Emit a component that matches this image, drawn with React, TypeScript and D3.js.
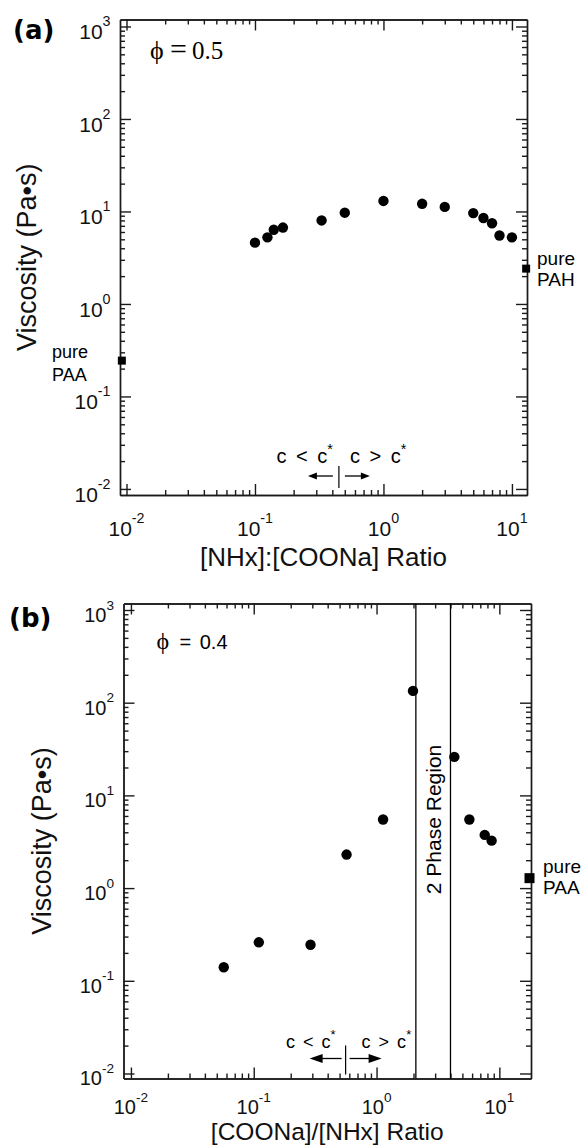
import React, { useEffect, useRef } from 'react';
import * as d3 from 'd3';

const SANS = '"Liberation Sans", Arial, Helvetica, sans-serif';
const SERIF = '"Liberation Serif", "DejaVu Serif", "Times New Roman", serif';
const BOLD = '"DejaVu Sans", Verdana, sans-serif';

// (a) phi = 0.5, x = [NHx]:[COONa]
const ratioA = [0.1, 0.125, 0.14, 0.165, 0.33, 0.5, 1, 2, 3, 5, 6, 7, 8, 10];
const viscA = [4.6, 5.25, 6.35, 6.7, 8.0, 9.7, 13.0, 12.1, 11.2, 9.6, 8.5, 7.45, 5.5, 5.25];
const pureLabelA = ['PAA', 'PAH'];
const pureRatioA = [0.0092, 12.9];
const pureViscA = [0.244, 2.41];
const xRangeA = [0.0089, 13.1];
const yRangeA = [0.0086, 1190];
const cStarA = 0.45;

// (b) phi = 0.4, x = [COONa]/[NHx]
const ratioB = [0.057, 0.11, 0.29, 0.57, 1.13, 1.98, 4.3, 5.7, 7.6, 8.65];
const viscB = [0.14, 0.26, 0.245, 2.3, 5.5, 134, 26, 5.5, 3.75, 3.25];
const pureLabelB = ['PAA'];
const pureRatioB = [17.6];
const pureViscB = [1.28];
const xRangeB = [0.0087, 18.1];
const yRangeB = [0.00883, 1175];
const phaseB = [2.09, 4.0];
const cStarB = 0.56;

const xDecades = [-2, -1, 0, 1];
const yDecades = [-2, -1, 0, 1, 2, 3];

const panels = [
  {
    box: { l: 120, t: 19.5, r: 527, b: 495 },
    tag: '(a)', tagX: 13, tagY: 39,
    xs: ratioA, ys: viscA, xRange: xRangeA, yRange: yRangeA,
    pureLabel: pureLabelA, pureX: pureRatioA, pureY: pureViscA, sq: 8,
    phase: [], cStar: cStarA, phi: '0.5',
    xTitle: '[NHx]:[COONa] Ratio', xTitleY: 566, xTitleSize: 26, yTitleX: 36,
    tick: 21, xLabelDy: 41, yLabelDy: 13,
    small: false,
  },
  {
    box: { l: 123.5, t: 603.5, r: 531, b: 1078.5 },
    tag: '(b)', tagX: 9, tagY: 627,
    xs: ratioB, ys: viscB, xRange: xRangeB, yRange: yRangeB,
    pureLabel: pureLabelB, pureX: pureRatioB, pureY: pureViscB, sq: 10,
    phase: phaseB, cStar: cStarB, phi: '0.4',
    xTitle: '[COONa]/[NHx] Ratio', xTitleY: 1140, xTitleSize: 24.5, yTitleX: 51,
    tick: 20, xLabelDy: 35.5, yLabelDy: 12,
    small: true,
  },
];

function drawPanel(svg, p) {
  const { l, t, r, b } = p.box;
  const x = d3.scaleLog().domain(p.xRange).range([l, r]);
  const y = d3.scaleLog().domain(p.yRange).range([b, t]);
  const g = svg.append('g');

  const minors = dec => dec.slice(0, -1).flatMap(e => d3.range(2, 10).map(k => k * 10 ** e));
  const xMaj = xDecades.map(e => 10 ** e);
  const yMaj = yDecades.map(e => 10 ** e);

  // frame with inward ticks on all four sides
  const sides = [
    [() => d3.axisBottom(x), `translate(0,${b})`, xMaj, minors(xDecades)],
    [() => d3.axisTop(x), `translate(0,${t})`, xMaj, minors(xDecades)],
    [() => d3.axisLeft(y), `translate(${l},0)`, yMaj, minors(yDecades)],
    [() => d3.axisRight(y), `translate(${r},0)`, yMaj, minors(yDecades)],
  ];
  sides.forEach(([mk, tr, maj, min]) => {
    [[maj, 11], [min, 5]].forEach(([vals, len]) => {
      g.append('g')
        .attr('transform', tr)
        .call(mk().tickValues(vals).tickSize(-len).tickSizeOuter(0).tickFormat(() => ''))
        .call(s => s.selectAll('path, line').attr('stroke', '#1a1a1a').attr('stroke-width', 1.4));
    });
  });

  // tick labels 10^n
  const sup = p.tick * 0.68;
  const power = (sel, e) => {
    sel.append('tspan').text('10');
    sel.append('tspan').attr('dy', -p.tick * 0.62).style('font-size', `${sup}px`).text(e);
  };
  xDecades.forEach(e => {
    g.append('text')
      .attr('x', x(10 ** e))
      .attr('y', b + p.xLabelDy)
      .attr('text-anchor', 'middle')
      .style('font-family', SANS)
      .style('font-size', `${p.tick}px`)
      .attr('fill', '#111')
      .call(s => power(s, e));
  });
  yDecades.forEach(e => {
    g.append('text')
      .attr('x', l - 9.5)
      .attr('y', y(10 ** e) + p.yLabelDy)
      .attr('text-anchor', 'end')
      .style('font-family', SANS)
      .style('font-size', `${p.tick}px`)
      .attr('fill', '#111')
      .call(s => power(s, e));
  });

  // axis titles
  g.append('text')
    .attr('x', (l + r) / 2)
    .attr('y', p.xTitleY)
    .attr('text-anchor', 'middle')
    .style('font-family', SANS)
    .style('font-size', `${p.xTitleSize}px`)
    .attr('fill', '#111')
    .text(p.xTitle);

  g.append('text')
    .attr('transform', `translate(${p.yTitleX},${(t + b) / 2}) rotate(-90)`)
    .attr('text-anchor', 'middle')
    .style('font-family', SANS)
    .style('font-size', '27px')
    .attr('fill', '#111')
    .text('Viscosity (Pa•s)');

  // panel tag
  g.append('text')
    .attr('x', p.tagX)
    .attr('y', p.tagY)
    .style('font-family', BOLD)
    .style('font-weight', 'bold')
    .style('font-size', '26px')
    .attr('fill', '#000')
    .text(p.tag);

  // phi label
  if (!p.small) {
    g.append('text').attr('x', l + 30).attr('y', t + 39)
      .style('font-family', SERIF).style('font-size', '26px').attr('fill', '#000').text('ϕ');
    g.append('text').attr('x', l + 50).attr('y', t + 39)
      .style('font-family', SERIF).style('font-size', '30px').attr('fill', '#000').text('=');
    g.append('text').attr('x', l + 72).attr('y', t + 39)
      .style('font-family', SERIF).style('font-size', '25px').attr('fill', '#000').text(p.phi);
  } else {
    g.append('text').attr('x', l + 33).attr('y', t + 45)
      .style('font-family', SERIF).style('font-size', '24px').attr('fill', '#000').text('ϕ');
    g.append('text').attr('x', l + 56).attr('y', t + 45)
      .style('font-family', SANS).style('font-size', '20px').style('word-spacing', '3px')
      .attr('fill', '#000').text(`= ${p.phi}`);
  }

  // two-phase boundaries
  p.phase.forEach(v => {
    g.append('line')
      .attr('x1', x(v)).attr('x2', x(v))
      .attr('y1', t).attr('y2', b)
      .attr('stroke', '#000')
      .attr('stroke-width', 1.3);
  });
  if (p.phase.length) {
    const mid = x(Math.sqrt(p.phase[0] * p.phase[1]));
    g.append('text')
      .attr('transform', `translate(${mid + 7.5},${y(5.5)}) rotate(-90)`)
      .attr('text-anchor', 'middle')
      .style('font-family', SANS)
      .style('font-size', '21px')
      .attr('fill', '#000')
      .text('2 Phase Region');
  }

  // c* annotation
  const cx = x(p.cStar);
  const fs = p.small ? 18 : 20;
  const ay = p.small ? b - 20 : b - 19;
  const tyc = p.small ? b - 31 : b - 32;
  const half = p.small ? 4.5 : 3.5;
  const head = p.small ? 13 : 9;
  const inner = p.small ? 4 : 6;
  const outer = p.small ? 36 : 31;
  const ws = p.small ? '3px' : '4px';

  [['c < c', cx - (p.small ? 10 : 6), 'end'], ['c > c', cx + (p.small ? 16 : 11), 'start']]
    .forEach(([txt, tx, anchor]) => {
      const el = g.append('text')
        .attr('x', tx).attr('y', tyc)
        .attr('text-anchor', anchor)
        .style('font-family', SANS).style('font-size', `${fs}px`).style('word-spacing', ws)
        .attr('fill', '#000');
      el.append('tspan').text(txt);
      el.append('tspan').attr('dy', -fs * 0.45).style('font-size', `${fs * 0.72}px`).text('*');
    });

  g.append('line')
    .attr('x1', cx).attr('x2', cx)
    .attr('y1', p.small ? b - 33 : b - 29).attr('y2', p.small ? b - 4 : b - 7)
    .attr('stroke', '#000').attr('stroke-width', 1.2);

  [-1, 1].forEach(dir => {
    const x0 = cx + dir * inner;
    const x1 = cx + dir * outer;
    g.append('line')
      .attr('x1', x0).attr('x2', x1 - dir * head * 0.5)
      .attr('y1', ay).attr('y2', ay)
      .attr('stroke', '#000').attr('stroke-width', 1.3);
    g.append('path')
      .attr('d', `M${x1},${ay}L${x1 - dir * head},${ay - half}L${x1 - dir * head},${ay + half}Z`)
      .attr('fill', '#000');
  });

  // data points
  g.selectAll('.pt')
    .data(p.xs.map((v, k) => [v, p.ys[k]]))
    .enter()
    .append('circle')
    .attr('class', 'pt')
    .attr('cx', d => x(d[0]))
    .attr('cy', d => y(d[1]))
    .attr('r', 5.2)
    .attr('fill', '#000');

  // pure polymer markers
  p.pureLabel.forEach((name, k) => {
    const px = x(p.pureX[k]);
    const py = y(p.pureY[k]);
    g.append('rect')
      .attr('x', px - p.sq / 2).attr('y', py - p.sq / 2)
      .attr('width', p.sq).attr('height', p.sq)
      .attr('fill', '#000');
    const left = px < (l + r) / 2;
    const tx = left ? l - 68 : r + (p.small ? 12 : 10);
    const f = left ? 18 : 19;
    const d1 = left ? -3 : (p.small ? -5 : -4);
    const d2 = left ? 20.5 : (p.small ? 16 : 17.5);
    [['pure', d1], [name, d2]].forEach(([txt, dy]) => {
      g.append('text')
        .attr('x', tx).attr('y', py + dy)
        .style('font-family', SANS)
        .style('font-size', `${f}px`)
        .attr('fill', '#000')
        .text(txt);
    });
  });
}

const App = () => {
  const svgRef = useRef(null);

  useEffect(() => {
    const svg = d3.select(svgRef.current);
    svg.selectAll('*').remove();
    panels.forEach(p => drawPanel(svg, p));
  }, []);

  return (
    <svg
      ref={svgRef}
      width={587}
      height={1146}
      style={{ position: 'absolute', left: 0, top: 0, background: '#fff' }}
    />
  );
};

export default App;
